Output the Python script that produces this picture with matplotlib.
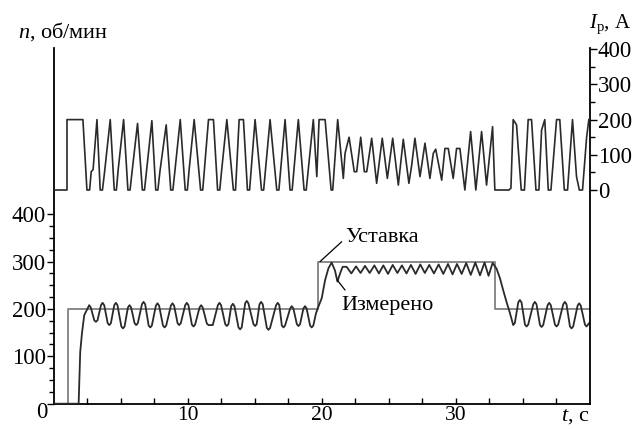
import matplotlib
matplotlib.use('Agg')
import matplotlib.pyplot as plt
from matplotlib.ticker import FixedLocator, FixedFormatter

plt.rcParams['font.family'] = ['Liberation Serif', 'DejaVu Serif']
plt.rcParams['mathtext.fontset'] = 'custom'
plt.rcParams['mathtext.rm'] = 'Liberation Serif'
plt.rcParams['mathtext.it'] = 'Liberation Serif:italic'

# ---------------- data ----------------
# setpoint speed (steps-post)
set_t = [0, 1.04, 19.75, 32.93, 40]
set_n = [0, 200, 300, 200, 200]

# measured speed
meas_t = [0, 1.84, 1.96, 2.09, 2.26, 2.63, 2.75,
          3.01, 3.13, 3.25, 3.51, 3.63, 3.75, 4.01, 4.13, 4.25, 4.50, 4.62, 4.74,
          5.03, 5.15, 5.27, 5.52, 5.64, 5.76, 6.02, 6.14, 6.26, 6.57, 6.69, 6.81,
          7.07, 7.19, 7.31, 7.61, 7.73, 7.85, 8.14, 8.26, 8.38, 8.73, 8.85, 8.97,
          9.23, 9.35, 9.47, 9.80, 9.92, 10.04, 10.30, 10.42, 10.54, 10.87, 10.99, 11.11,
          11.42, 11.54, 11.86, 12.24, 12.36, 12.48, 12.79, 12.91, 13.03, 13.24, 13.36, 13.48,
          13.78, 13.90, 14.02, 14.28, 14.40, 14.52, 14.90, 15.02, 15.14, 15.35, 15.47, 15.59,
          15.90, 16.02, 16.14, 16.59, 16.71, 16.83, 17.02, 17.14, 17.26, 17.64, 17.76, 17.88,
          18.14, 18.26, 18.38, 18.63, 18.75, 18.87, 19.13, 19.25, 19.37,
          19.57, 19.75, 20.00, 20.25, 20.50, 20.74, 20.99, 21.17, 21.37, 21.56,
          21.86, 22.21, 22.56, 22.90, 23.23, 23.58, 23.93, 24.27, 24.60, 24.95,
          25.30, 25.65, 25.99, 26.33, 26.66, 27.01, 27.36, 27.70, 28.03, 28.38,
          28.73, 29.08, 29.43, 29.77, 30.10, 30.45, 30.79, 31.13, 31.47, 31.82,
          32.16, 32.46, 32.76,
          33.06, 33.31, 33.55, 33.80, 34.05, 34.30, 34.42,
          34.68, 34.80, 34.92, 35.18, 35.30, 35.42, 35.80, 35.92, 36.04,
          36.30, 36.42, 36.54, 36.87, 36.99, 37.11, 37.42, 37.54, 37.66,
          38.04, 38.16, 38.28, 38.54, 38.66, 38.78, 39.11, 39.23, 39.35,
          39.66, 39.78, 39.97]
meas_n = [0, 0, 110, 149, 187, 208, 203,
          176, 173, 176, 208, 213, 208, 170, 166, 170, 208, 213, 208,
          163, 159, 163, 203, 208, 203, 170, 166, 170, 210, 215, 210,
          165, 161, 165, 207, 212, 207, 165, 161, 165, 207, 212, 207,
          170, 166, 170, 208, 213, 208, 167, 163, 167, 203, 208, 203,
          169, 166, 166, 208, 213, 208, 168, 164, 168, 206, 211, 206,
          161, 157, 161, 212, 217, 212, 168, 164, 168, 210, 215, 210,
          160, 156, 160, 208, 213, 208, 165, 161, 165, 201, 206, 201,
          168, 164, 168, 201, 206, 201, 165, 161, 165,
          191, 205, 223, 261, 286, 298, 281, 258, 275, 289,
          289, 275, 290, 276, 291, 276, 292, 275, 292, 274,
          293, 276, 292, 275, 293, 274, 294, 276, 293, 275,
          294, 274, 295, 273, 295, 274, 297, 272, 298, 271,
          298, 270, 297,
          285, 265, 240, 215, 192, 166, 170,
          214, 219, 214, 167, 163, 167, 210, 215, 210,
          166, 162, 166, 208, 213, 208, 167, 163, 167,
          210, 215, 210, 163, 159, 163, 207, 212, 207,
          167, 163, 170]

# armature current
cur_t = [0, 0.97, 0.97, 2.16, 2.46, 2.66, 2.78, 2.92, 3.21, 3.45, 3.62, 3.78, 4.20, 4.50, 4.66,
         4.80, 5.20, 5.52, 5.68, 5.84, 6.24, 6.60, 6.76, 6.90, 7.31, 7.60, 7.76, 7.92,
         8.38, 8.72, 8.88, 9.02, 9.43, 9.80, 9.96, 10.10, 10.47, 10.95, 11.11, 11.54, 11.91,
         12.22, 12.38, 12.52, 12.91, 13.40, 13.56, 13.83, 14.15, 14.45, 14.61, 15.02,
         15.50, 15.66, 16.14, 16.64, 16.80, 17.26, 17.63, 17.79, 18.25, 18.68, 18.84,
         19.37, 19.63, 19.80, 20.25, 20.70, 20.82, 21.19, 21.61, 21.74, 22.04, 22.43,
         22.61, 22.91, 23.18, 23.36, 23.73, 24.10, 24.52, 24.90, 25.30, 25.72, 26.09,
         26.51, 26.72, 26.96, 27.34, 27.71, 28.08, 28.33, 28.51, 28.96, 29.20, 29.45,
         29.82, 30.07, 30.32, 30.69, 31.12, 31.51, 31.94, 32.31, 32.76, 32.93,
         33.98, 34.13, 34.30, 34.55, 34.90, 35.14, 35.42, 35.67, 36.00, 36.22,
         36.29, 36.42, 36.66, 36.92, 37.12, 37.54, 37.78, 38.12, 38.36, 38.73,
         39.03, 39.24, 39.48, 39.78, 39.95]
cur_a = [0, 0, 200, 200, 0, 0, 52, 58, 200, 0, 0, 52, 200, 0, 0,
         60, 200, 0, 0, 55, 189, 0, 0, 50, 197, 0, 0, 55,
         185, 0, 0, 50, 200, 0, 0, 60, 200, 0, 0, 200, 200,
         0, 0, 55, 200, 0, 0, 200, 200, 0, 0, 200,
         0, 0, 200, 0, 0, 200, 0, 0, 200, 0, 0,
         200, 38, 200, 200, 0, 0, 200, 33, 104, 150, 52,
         52, 150, 52, 52, 147, 19, 147, 33, 147, 14, 144,
         19, 71, 147, 38, 133, 33, 104, 116, 28, 118, 118,
         33, 118, 118, 0, 166, 0, 166, 14, 180, 0,
         0, 5, 200, 185, 0, 0, 200, 200, 0, 0,
         62, 170, 200, 0, 0, 200, 200, 0, 0, 200,
         38, 0, 0, 148, 200]

# ticks
x_major = [10, 20, 30]
x_major_labels = ['10', '20', '30']
x_minor = [2.5, 5, 7.5, 12.5, 15, 17.5, 22.5, 25, 27.5, 32.5, 35, 37.5]
n_major = [0, 100, 200, 300, 400]
n_major_labels = ['', '100', '200', '300', '400']
n_minor = [25, 50, 75, 125, 150, 175, 225, 250, 275, 325, 350, 375]
i_major = [0, 100, 200, 300, 400]
i_major_labels = ['0', '100', '200', '300', '400']
i_minor = [50, 150, 250, 350]

# ---------------- figure ----------------
W, H = 634, 429
fig = plt.figure(figsize=(W / 100, H / 100), dpi=100)
left_px, right_px, bottom_px, top_px = 54, 589.5, 403.7, 48
ax = fig.add_axes([left_px / W, (H - bottom_px) / H,
                   (right_px - left_px) / W, (bottom_px - top_px) / H])
ax.set_xlim(0, 40)
ax.set_ylim(0, 751)
ax.patch.set_alpha(0)

ax2 = ax.twinx()
ax2.set_ylim(-607, 403.4)

lw_sp = 1.3
for s in ['top', 'right']:
    ax.spines[s].set_visible(False)
for s in ['left', 'bottom']:
    ax.spines[s].set_linewidth(lw_sp)
for s in ['top', 'left', 'bottom']:
    ax2.spines[s].set_visible(False)
ax2.spines['right'].set_linewidth(lw_sp)

fs_tick = 16.5
ax.xaxis.set_major_locator(FixedLocator(x_major))
ax.xaxis.set_major_formatter(FixedFormatter(x_major_labels))
ax.xaxis.set_minor_locator(FixedLocator(x_minor))
ax.tick_params(axis='x', which='major', direction='in', length=4, width=1.0,
               labelsize=15.5, pad=1.5)
ax.tick_params(axis='x', which='minor', direction='in', length=4, width=1.0)

ax.yaxis.set_major_locator(FixedLocator(n_major))
ax.yaxis.set_major_formatter(FixedFormatter(n_major_labels))
ax.yaxis.set_minor_locator(FixedLocator(n_minor))
ax.tick_params(axis='y', which='major', direction='out', length=5, width=1.0,
               labelsize=fs_tick, pad=1)
ax.tick_params(axis='y', which='minor', direction='out', length=3.5, width=1.0)

ax2.yaxis.set_major_locator(FixedLocator(i_major))
ax2.yaxis.set_major_formatter(FixedFormatter(i_major_labels))
ax2.yaxis.set_minor_locator(FixedLocator(i_minor))
ax2.tick_params(axis='y', which='major', direction='out', length=5, width=1.0,
                labelsize=fs_tick, pad=1)
ax2.tick_params(axis='y', which='minor', direction='out', length=3.5, width=1.0)

# curves
ax.plot(set_t, set_n, drawstyle='steps-post', color='#808080', lw=1.3, zorder=2)
ax.plot(meas_t, meas_n, color='#2a2a2a', lw=1.3, zorder=3)
ax2.plot(cur_t, cur_a, color='#2a2a2a', lw=1.2, zorder=3)

# annotations
fs_lab = 16
ax.annotate('', xy=(19.87, 300), xytext=(21.49, 342),
            arrowprops=dict(arrowstyle='-', lw=0.9, color='k', shrinkA=0, shrinkB=0))
ax.text(21.74, 350, 'Уставка', fontsize=fs_lab, ha='left', va='center')
ax.annotate('', xy=(21.16, 261), xytext=(21.74, 240),
            arrowprops=dict(arrowstyle='-', lw=0.9, color='k', shrinkA=0, shrinkB=0))
ax.text(21.49, 208, 'Измерено', fontsize=fs_lab, ha='left', va='center')

# axis titles
fig.text(18 / W, 1 - 32 / H, '$n$, об/мин', fontsize=fs_lab, ha='left', va='center')
fig.text(631 / W, 1 - 24 / H, r'$I_{\mathrm{р}}$, А', fontsize=15, ha='right', va='center')
fig.text(575 / W, 1 - 416 / H, '$t$, с', fontsize=fs_lab, ha='center', va='center')
fig.text(42 / W, 1 - 413 / H, '0', fontsize=fs_tick, ha='center', va='center')

fig.savefig('out.png', dpi=100)
